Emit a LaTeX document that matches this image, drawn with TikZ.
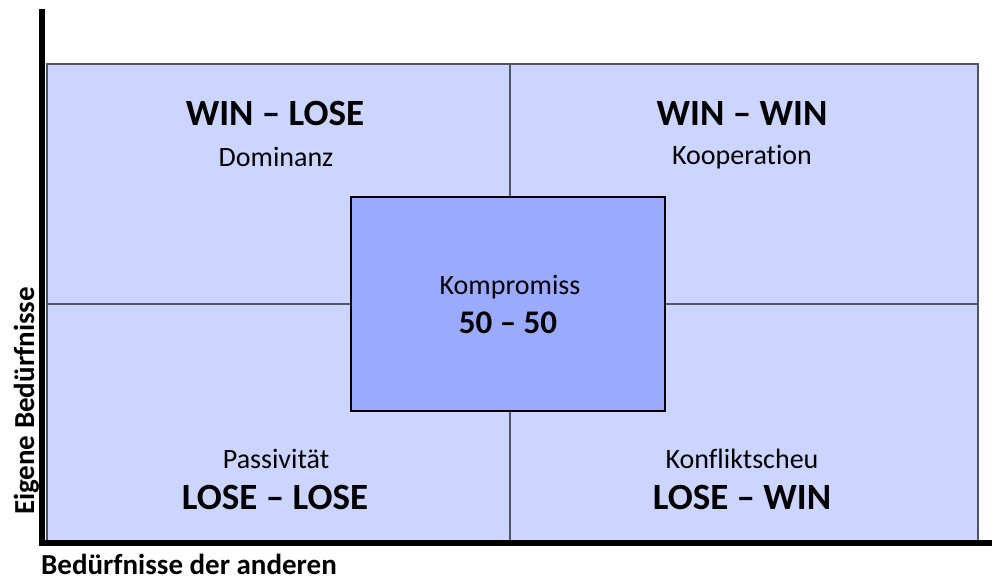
\documentclass[tikz,border=0pt]{standalone}
\usepackage{fontspec}
\setmainfont{Carlito}[Ligatures=NoCommon]
\usetikzlibrary{positioning}
\definecolor{feldblau}{HTML}{CCD5FF}
\definecolor{mitteblau}{HTML}{99AAFF}
\definecolor{gitter}{HTML}{505563}
\tikzset{
    %Define style for quadrants
    feld/.style={
           rectangle,
           draw=gitter, line width=1.5pt,
           fill=feldblau,
           inner sep=0pt,
           anchor=north west},
    %Define style for the middle box
    mitte/.style={
           rectangle,
           draw=black, line width=1.5pt,
           fill=mitteblau,
           inner sep=0pt,
           minimum width=314pt,
           minimum height=214pt},
    % Define text styles
    ergebnis/.style={
           font=\fontsize{37}{40}\selectfont\bfseries,
           inner sep=0pt},
    haltung/.style={
           font=\fontsize{28}{32}\selectfont,
           inner sep=0pt},
    achsentext/.style={
           font=\fontsize{29}{32}\selectfont\bfseries,
           inner sep=0pt},
    achse/.style={
           line width=6pt}
}
\begin{document}
\begin{tikzpicture}[x=1pt, y=-1pt]
         \useasboundingbox (0,0) rectangle (992,579);
         %quadrants
          \node[feld, minimum width=463pt, minimum height=240pt] (lo) at (46,63) {};
          \node[feld, minimum width=468pt, minimum height=240pt] (ro) at (509,63) {};
          \node[feld, minimum width=463pt, minimum height=237pt] (lu) at (46,303) {};
          \node[feld, minimum width=468pt, minimum height=237pt] (ru) at (509,303) {};
          \node[mitte] (komp) at (508,304) {};
         %texts
          \node[ergebnis] (wl) at (275,113) {WIN -- LOSE};
          \node[haltung] (dom) at (276,157) {Dominanz};
          \node[ergebnis] (ww) at (742,113) {WIN -- WIN};
          \node[haltung] (koop) at (742,157) {Kooperation};
          \node[haltung] (kompt) at (510,287) {Kompromiss};
          \node[ergebnis, font=\fontsize{33}{36}\selectfont\bfseries] (fifty) at (508,323) {50 -- 50};
          \node[haltung] (pass) at (276,459) {Passivität};
          \node[ergebnis] (ll) at (275,497) {LOSE -- LOSE};
          \node[haltung] (konf) at (742,459) {Konfliktscheu};
          \node[ergebnis] (lw) at (742,497) {LOSE -- WIN};
         %axes
          \coordinate (ursprung) at (42,543);
          \coordinate (yende) at (42,9);
          \coordinate (xende) at (992,543);
          \draw[achse] (yende) -- (ursprung.center) -- (xende);
          \node[achsentext, rotate=90, anchor=base] (eigen) at (34,401) {Eigene Bedürfnisse};
          \node[achsentext, anchor=base west] (andere) at (41,574) {Bedürfnisse der anderen};
        \end{tikzpicture}
\end{document}
